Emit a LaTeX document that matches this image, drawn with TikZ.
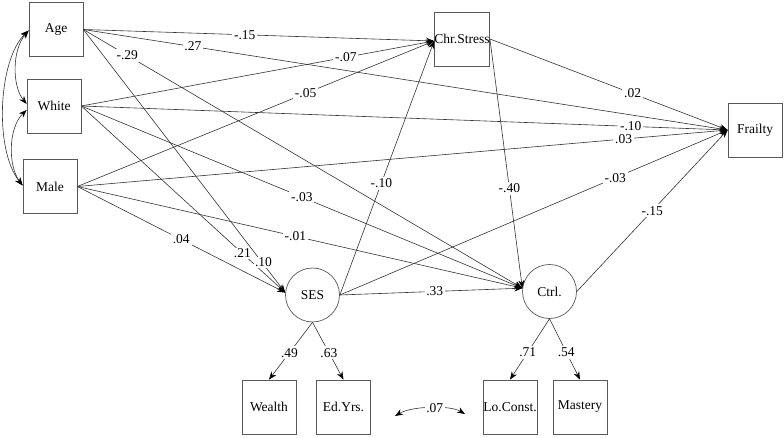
\documentclass[tikz,border=0pt]{standalone}
\usepackage{fontspec}
\setmainfont{Liberation Serif}
\usetikzlibrary{arrows.meta}
\begin{document}
\begin{tikzpicture}[x=1pt,y=-1pt,
  txt/.style={font=\fontsize{13.5}{15}\selectfont},
  box/.style={txt, draw=black!65, line width=0.7pt, minimum width=54pt, minimum height=54pt, inner sep=0pt},
  lat/.style={txt, circle, draw=black!65, line width=0.7pt, minimum size=54pt, inner sep=0pt},
  reg/.style={draw=black!80, line width=0.6pt, -{Stealth[length=8pt,width=6pt,black]}},
  cov/.style={draw=black!80, line width=0.6pt, {Stealth[length=8pt,width=6pt,black]}-{Stealth[length=8pt,width=6pt,black]}},
  lbl/.style={txt, fill=white, inner sep=1.8pt}
]
\useasboundingbox (0,0) rectangle (784,438);

% nodes
\node[box] (age) at (56,29.5) {Age};
\node[box] (white) at (54,106) {White};
\node[box] (male) at (50,186.5) {Male};
\node[box] (chr) at (462,39) {Chr.Stress};
\node[box] (frail) at (755,130) {Frailty};
\node[lat] (ses) at (312.5,295) {SES};
\node[lat] (ctrl) at (549.5,291.5) {Ctrl.};
\node[box] (wealth) at (269,407) {Wealth};
\node[box] (edyrs) at (343.5,407) {Ed.Yrs.};
\node[box] (locon) at (510,407) {Lo.Const.};
\node[box] (mast) at (580,407) {Mastery};

\coordinate (chrin) at ([yshift=-2pt]chr.west);

% from White (drawn first so the Age labels sit on top)
\draw[reg] (white.east) -- node[lbl,pos=.75]{-.07} (chrin);
\draw[reg] (white.east) -- node[lbl,pos=.85]{-.10} (frail.west);
\draw[reg] (white.east) -- node[lbl,pos=.50]{-.03} (ctrl.173);
\draw[reg] (white.east) -- node[lbl,pos=.79,inner sep=1pt]{.21} (ses.175);
% from Age
\draw[reg] (age.east) -- node[lbl,pos=.46]{-.15} (chrin);
\draw[reg] (age.east) -- node[lbl,pos=.17]{.27} (frail.west);
\draw[reg] (age.east) -- node[lbl,pos=.10]{-.29} (ctrl.173);
\draw[reg] (age.east) -- node[lbl,pos=.885,xshift=1.5pt,inner sep=1pt]{.10} (ses.175);
% from Male
\draw[reg] (male.east) -- node[lbl,pos=.64]{-.05} (chrin);
\draw[reg] (male.east) -- node[lbl,pos=.84]{.03} (frail.west);
\draw[reg] (male.east) -- node[lbl,pos=.49]{-.01} (ctrl.173);
\draw[reg] (male.east) -- node[lbl,pos=.50]{.04} (ses.175);
% from Chr.Stress
\draw[reg] (chr.east) -- node[lbl,pos=.60]{.02} (frail.west);
\draw[reg] (chr.east) -- node[lbl,pos=.60]{-.40} (ctrl.173);
% from SES
\draw[reg] (ses.east) -- node[lbl,pos=.44]{-.10} (chrin);
\draw[reg] (ses.east) -- node[lbl,pos=.52]{.33} (ctrl.173);
\draw[reg] (ses.east) -- node[lbl,pos=.71]{-.03} (frail.west);
% from Ctrl
\draw[reg] (ctrl.east) -- node[lbl,pos=.50]{-.15} (frail.west);
% measurement
\draw[reg] (ses.south) -- node[lbl,pos=.53]{.49} (wealth.north);
\draw[reg] (ses.south) -- node[lbl,pos=.53]{.63} (edyrs.north);
\draw[reg] (ctrl.south) -- node[lbl,pos=.55]{.71} (locon.north);
\draw[reg] (ctrl.south) -- node[lbl,pos=.55]{.54} (mast.north);

% covariances among exogenous
\coordinate (ageL) at ([yshift=-1pt]age.west);
\coordinate (whiteLa) at ([yshift=2pt]white.west);
\coordinate (whiteLb) at ([yshift=-4pt]white.west);
\coordinate (maleL) at ([yshift=1pt]male.west);
\draw[cov] (ageL) .. controls (12,50) and (12,86) .. (whiteLa);
\draw[cov] (whiteLb) .. controls (8,128) and (8,166) .. (maleL);
\draw[cov] (ageL) .. controls (-2,60) and (-6,150) .. (maleL);

% residual covariance
\coordinate (cvL) at (395,416);
\coordinate (cvR) at (465,414);
\draw[cov] (cvL) .. controls (412,406) and (450,405) .. node[lbl,pos=.55]{.07} (cvR);
\end{tikzpicture}
\end{document}
